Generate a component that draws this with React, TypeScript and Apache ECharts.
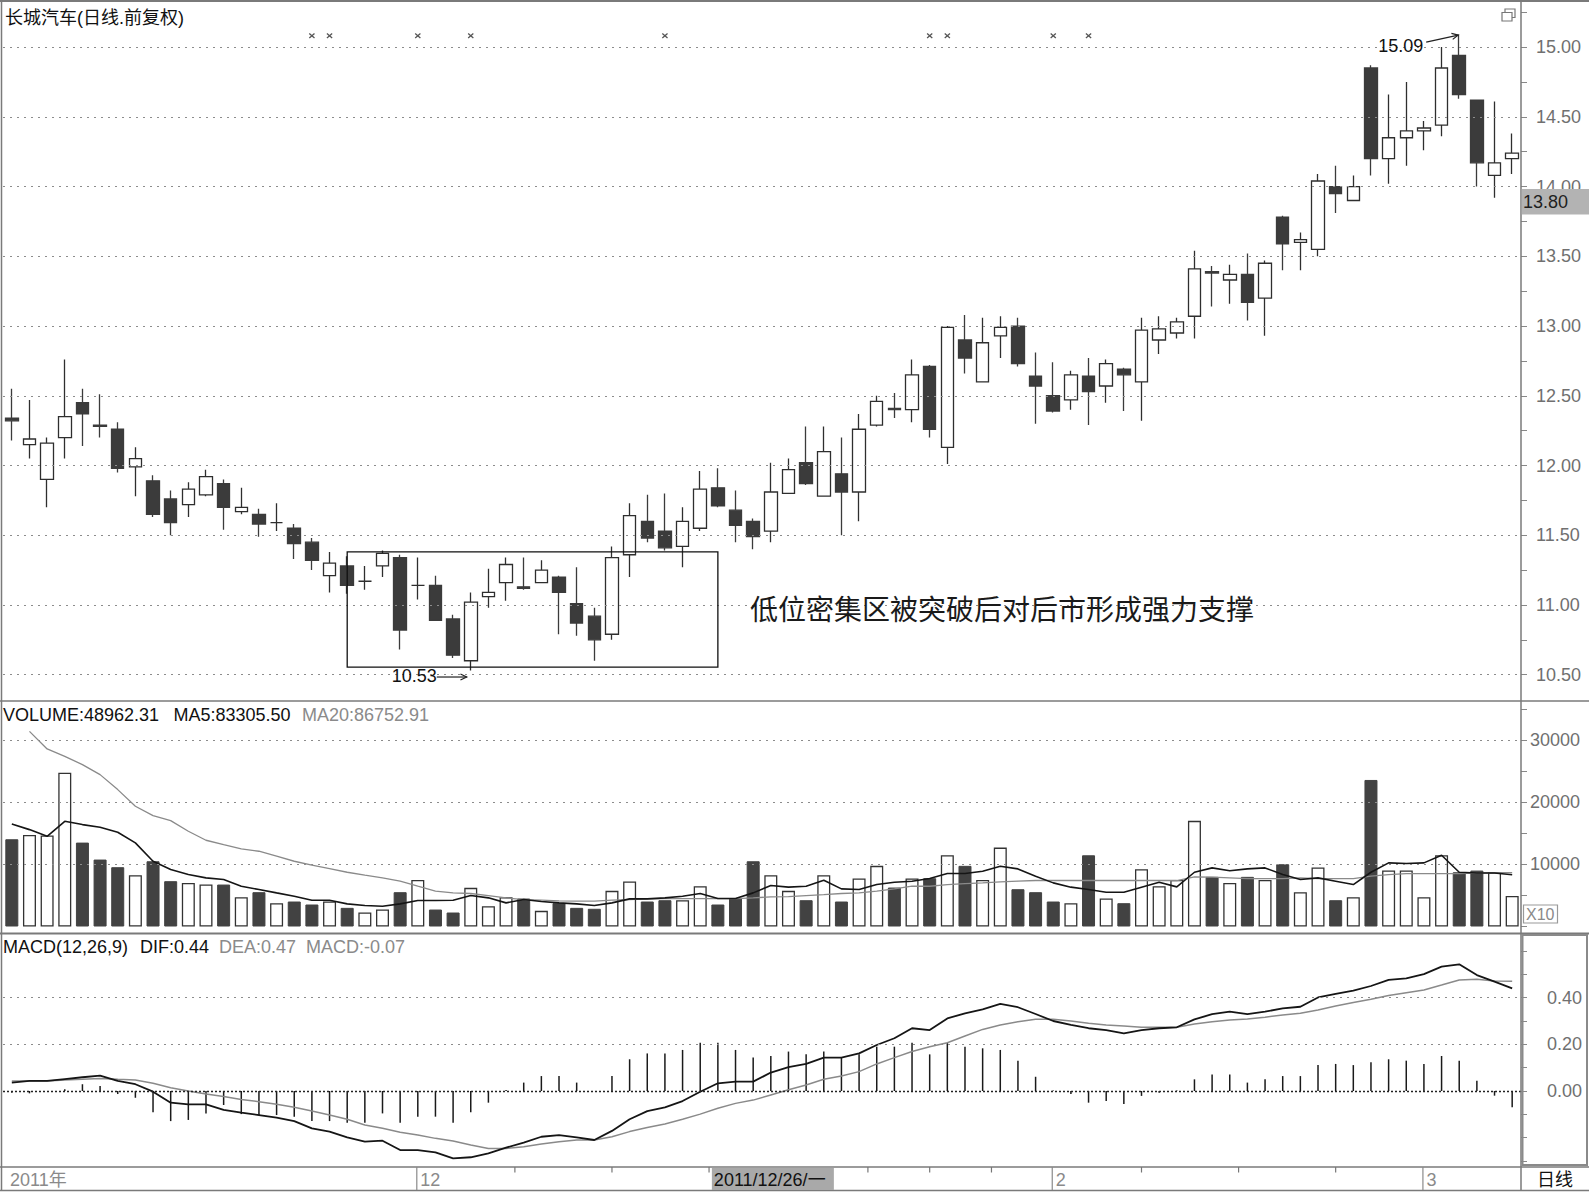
import React, { useEffect, useRef } from 'react';
import * as echarts from 'echarts';

const FONT = '"Liberation Sans", Arial, "Noto Sans CJK SC", sans-serif';
const CJK = '"Noto Sans CJK SC", "Liberation Sans", sans-serif';

// [open, close, low, high]
const CANDLES: number[][] = [
  [12.34, 12.32, 12.18, 12.55], [12.15, 12.19, 12.05, 12.47], [11.90, 12.16, 11.70, 12.20], [12.20, 12.35, 12.05, 12.76],
  [12.45, 12.37, 12.14, 12.55], [12.29, 12.28, 12.20, 12.51], [12.26, 11.98, 11.95, 12.31], [11.99, 12.05, 11.78, 12.13],
  [11.89, 11.65, 11.63, 11.93], [11.76, 11.59, 11.50, 11.82], [11.72, 11.83, 11.63, 11.88], [11.79, 11.92, 11.78, 11.97],
  [11.87, 11.70, 11.54, 11.90], [11.67, 11.70, 11.65, 11.84], [11.65, 11.58, 11.49, 11.69], [11.59, 11.59, 11.53, 11.73],
  [11.55, 11.44, 11.33, 11.58], [11.45, 11.32, 11.25, 11.48], [11.21, 11.30, 11.09, 11.38], [11.28, 11.14, 11.08, 11.35],
  [11.17, 11.17, 11.11, 11.28], [11.28, 11.37, 11.20, 11.39], [11.34, 10.82, 10.68, 11.36], [11.14, 11.14, 11.04, 11.34],
  [11.14, 10.89, 10.89, 11.21], [10.90, 10.64, 10.62, 10.93], [10.60, 11.02, 10.53, 11.09], [11.06, 11.09, 10.98, 11.26],
  [11.16, 11.29, 11.03, 11.34], [11.13, 11.12, 11.11, 11.34], [11.16, 11.25, 11.16, 11.32], [11.20, 11.09, 10.79, 11.21],
  [11.01, 10.87, 10.78, 11.27], [10.92, 10.75, 10.60, 10.98], [10.79, 11.34, 10.75, 11.42], [11.36, 11.64, 11.20, 11.73],
  [11.60, 11.48, 11.45, 11.79], [11.53, 11.41, 11.39, 11.80], [11.42, 11.60, 11.27, 11.70], [11.55, 11.83, 11.53, 11.96],
  [11.84, 11.71, 11.70, 11.98], [11.68, 11.57, 11.45, 11.82], [11.60, 11.49, 11.40, 11.62], [11.53, 11.81, 11.45, 12.02],
  [11.80, 11.97, 11.80, 12.05], [12.02, 11.87, 11.86, 12.28], [11.78, 12.10, 11.78, 12.28], [11.94, 11.81, 11.50, 12.20],
  [11.81, 12.26, 11.60, 12.37], [12.29, 12.46, 12.28, 12.50], [12.41, 12.40, 12.34, 12.52], [12.40, 12.65, 12.31, 12.76],
  [12.71, 12.26, 12.20, 12.72], [12.13, 12.99, 12.01, 13.00], [12.90, 12.77, 12.66, 13.08], [12.60, 12.88, 12.60, 13.06],
  [12.93, 12.99, 12.77, 13.07], [13.00, 12.73, 12.71, 13.06], [12.64, 12.57, 12.30, 12.81], [12.50, 12.39, 12.38, 12.74],
  [12.47, 12.65, 12.40, 12.68], [12.64, 12.53, 12.29, 12.77], [12.57, 12.73, 12.45, 12.76], [12.69, 12.65, 12.39, 12.70],
  [12.60, 12.97, 12.32, 13.06], [12.90, 12.98, 12.80, 13.07], [12.95, 13.03, 12.91, 13.06], [13.07, 13.41, 12.91, 13.54],
  [13.39, 13.38, 13.14, 13.43], [13.33, 13.37, 13.16, 13.44], [13.37, 13.17, 13.04, 13.52], [13.20, 13.45, 12.93, 13.47],
  [13.78, 13.59, 13.40, 13.79], [13.60, 13.62, 13.40, 13.67], [13.55, 14.04, 13.50, 14.09], [14.00, 13.95, 13.81, 14.15],
  [13.90, 14.00, 13.90, 14.08], [14.85, 14.20, 14.08, 14.87], [14.20, 14.35, 14.02, 14.66], [14.35, 14.40, 14.15, 14.75],
  [14.40, 14.42, 14.26, 14.47], [14.44, 14.85, 14.36, 15.00], [14.94, 14.66, 14.63, 15.09], [14.62, 14.17, 14.00, 14.62],
  [14.08, 14.17, 13.92, 14.61], [14.20, 14.24, 14.09, 14.38],
];

const VOLUME: number[] = [
  14040, 14740, 14650, 24760, 13500, 10770, 9540, 8250, 10500, 7290,
  7020, 6750, 6750, 4720, 5520, 3750, 4020, 3540, 4020, 3000,
  2250, 2730, 5520, 7500, 2730, 2250, 6220, 3270, 4720, 4500,
  2520, 3750, 3000, 2850, 5740, 7230, 4020, 4230, 4230, 6480,
  3540, 4500, 10500, 8250, 5740, 4230, 8250, 4020, 7720, 9760,
  6270, 7720, 7770, 11460, 9760, 7500, 12700, 6000, 5520, 4020,
  3750, 11460, 4500, 3750, 9220, 6480, 7500, 17000, 7990, 7020,
  7990, 7500, 10020, 5520, 9490, 4230, 4720, 23580, 9000, 9000,
  4720, 11460, 8730, 9000, 8730, 4896,
];

const VOL_MA5: number[] = [
  16500, 15590, 14520, 16930, 16400, 15970, 15170, 13450, 10500, 9160,
  8360, 7820, 7560, 6480, 5950, 5410, 4880, 4230, 4230, 3640,
  3380, 3270, 3640, 4180, 4180, 4230, 4980, 4610, 3800, 4340,
  4020, 3800, 3640, 3380, 3800, 4450, 4450, 4610, 4880, 5310,
  4500, 4500, 5410, 6590, 6330, 6480, 7450, 6050, 5950, 6750,
  7130, 7290, 7720, 8520, 8520, 8900, 9700, 9270, 8090, 7020,
  6330, 5950, 5520, 5520, 6330, 7130, 6380, 8730, 9430, 8980,
  9270, 9430, 8360, 7560, 7820, 7290, 6750, 8730, 10240, 10130,
  10240, 11470, 8730, 8620, 8620, 8330,
];

const VOL_MA20: (number | null)[] = [
  null, 31400, 28570, 27380, 26050, 24440, 22030, 19350, 17850, 17040,
  15330, 13880, 13180, 12490, 12110, 11310, 10500, 9860, 9330, 8730,
  8250, 7820, 7290, 6480, 5680, 5410, 5310, 4980, 4610, 4340,
  4230, 4120, 4070, 4070, 4230, 4340, 4450, 4500, 4500, 4500,
  4500, 4500, 4610, 4770, 4800, 4980, 5140, 5310, 5410, 5680,
  6050, 6480, 6480, 6750, 6910, 7020, 7180, 7290, 7400, 7400,
  7400, 7400, 7400, 7400, 7400, 7400, 7400, 7990, 7930, 7820,
  7720, 7720, 7720, 7820, 7720, 7720, 7720, 8090, 8360, 8520,
  8520, 8520, 8520, 8600, 8650, 8675,
];

const DIF: number[] = [
  0.036, 0.043, 0.043, 0.051, 0.059, 0.066, 0.043, 0.029, -0.003, -0.050,
  -0.057, -0.057, -0.081, -0.093, -0.103, -0.114, -0.129, -0.160, -0.174, -0.199,
  -0.217, -0.213, -0.253, -0.253, -0.263, -0.289, -0.284, -0.267, -0.243, -0.221,
  -0.196, -0.189, -0.199, -0.210, -0.171, -0.121, -0.086, -0.070, -0.043, -0.003,
  0.033, 0.040, 0.040, 0.079, 0.102, 0.116, 0.143, 0.143, 0.161, 0.197,
  0.226, 0.269, 0.261, 0.311, 0.333, 0.350, 0.373, 0.359, 0.330, 0.300,
  0.283, 0.269, 0.261, 0.247, 0.261, 0.269, 0.273, 0.307, 0.329, 0.340,
  0.329, 0.340, 0.354, 0.361, 0.401, 0.416, 0.430, 0.450, 0.476, 0.483,
  0.501, 0.533, 0.543, 0.497, 0.469, 0.440,
];

const DEA: number[] = [
  0.043, 0.043, 0.043, 0.047, 0.050, 0.054, 0.050, 0.047, 0.033, 0.014,
  0.000, -0.013, -0.024, -0.036, -0.046, -0.057, -0.070, -0.086, -0.103, -0.121,
  -0.146, -0.160, -0.177, -0.189, -0.203, -0.214, -0.231, -0.246, -0.246, -0.239,
  -0.227, -0.217, -0.210, -0.210, -0.196, -0.174, -0.156, -0.141, -0.121, -0.099,
  -0.074, -0.053, -0.039, -0.017, 0.005, 0.026, 0.050, 0.064, 0.083, 0.116,
  0.143, 0.169, 0.190, 0.207, 0.236, 0.264, 0.283, 0.297, 0.307, 0.307,
  0.300, 0.290, 0.283, 0.279, 0.273, 0.273, 0.273, 0.287, 0.297, 0.304,
  0.309, 0.316, 0.326, 0.333, 0.347, 0.364, 0.379, 0.393, 0.409, 0.421,
  0.433, 0.454, 0.476, 0.479, 0.471, 0.470,
];

const MACD_HIST: number[] = [
  -0.007, -0.010, 0.000, 0.007, 0.029, 0.021, -0.013, -0.029, -0.091, -0.129,
  -0.124, -0.096, -0.060, -0.099, -0.103, -0.103, -0.110, -0.129, -0.129, -0.136,
  -0.136, -0.096, -0.136, -0.110, -0.110, -0.136, -0.091, -0.050, 0.004, 0.036,
  0.064, 0.064, 0.036, 0.000, 0.064, 0.136, 0.161, 0.161, 0.176, 0.207,
  0.207, 0.176, 0.144, 0.150, 0.169, 0.157, 0.169, 0.143, 0.157, 0.190,
  0.190, 0.207, 0.157, 0.207, 0.190, 0.183, 0.176, 0.130, 0.061, 0.002,
  -0.013, -0.050, -0.043, -0.056, -0.021, -0.007, 0.002, 0.050, 0.071, 0.071,
  0.036, 0.050, 0.064, 0.064, 0.111, 0.116, 0.111, 0.123, 0.136, 0.130,
  0.116, 0.150, 0.130, 0.044, -0.020, -0.070,
];

const PRICE_TICKS = [10.5, 11, 11.5, 12, 12.5, 13, 13.5, 14, 14.5, 15];
const VOLUME_TICKS = [10000, 20000, 30000];
const MACD_TICKS = [0, 0.2, 0.4];

const TITLE = '长城汽车(日线.前复权)';
const VOL_LEGEND = ['VOLUME:48962.31', 'MA5:83305.50', 'MA20:86752.91'];
const MACD_LEGEND = ['MACD(12,26,9)', 'DIF:0.44', 'DEA:0.47', 'MACD:-0.07'];
const ANNOTATION = '低位密集区被突破后对后市形成强力支撑';
const LAST_PRICE_LABEL = '13.80';

const INFO_MARK_BARS = [18, 19, 24, 27, 38, 53, 54, 60, 62];
const MONTH_MARKS = [
  { bar: 24, label: '12' },
  { bar: 60, label: '2' },
  { bar: 81, label: '3' },
];
const WEEK_TICK_BARS = [29.5, 35, 40.5, 49.5, 53, 56.5, 65, 70.5, 76];
const CURSOR_BAR = 41;
const CURSOR_LABEL = '2011/12/26/一';
const YEAR_LABEL = '2011年';
const PERIOD_LABEL = '日线';
const HIGH_NOTE = { bar: 83, price: 15.09, label: '15.09' };
const LOW_NOTE = { bar: 27, price: 10.53, label: '10.53' };
const BOX = { fromBar: 20, toBar: 41, top: 11.38, bottom: 10.555 };

const CATEGORIES = CANDLES.map((_, i) => String(i + 1));

function isUp(i: number) {
  const [o, c] = CANDLES[i];
  if (c !== o) return c > o;
  return i === 0 || CANDLES[i - 1][1] <= c;
}

function tickFormatter(ticks: number[], digits: number) {
  return (v: number) => (ticks.some((t) => Math.abs(t - v) < 1e-6) ? v.toFixed(digits) : '');
}

function rightAxis(gridIndex: number, min: number, max: number, interval: number, ticks: number[], digits: number, margin: number) {
  return {
    type: 'value',
    gridIndex,
    position: 'right',
    min,
    max,
    interval,
    splitLine: { show: false },
    axisLine: { show: false },
    axisTick: { show: true, length: 6, lineStyle: { color: '#888', width: 1 } },
    axisLabel: {
      margin,
      color: '#707070',
      fontSize: 18,
      fontFamily: FONT,
      formatter: tickFormatter(ticks, digits),
    },
  };
}

function catAxis(gridIndex: number) {
  return {
    type: 'category',
    gridIndex,
    data: CATEGORIES,
    boundaryGap: true,
    axisLine: { show: false },
    axisTick: { show: false },
    axisLabel: { show: false },
    splitLine: { show: false },
  };
}

const DOTTED = { type: [2, 5], color: '#8c8c8c', width: 1 };

function gridLines(values: number[], style: any) {
  return {
    silent: true,
    symbol: ['none', 'none'],
    label: { show: false },
    emphasis: { disabled: true },
    lineStyle: style,
    data: values.map((v) => ({ yAxis: v })),
  };
}

function buildOption() {
  const gridBase = { left: 3, right: 68, outerBoundsMode: 'none', containLabel: false };
  return {
    animation: false,
    backgroundColor: '#ffffff',
    grid: [
      { ...gridBase, top: 12.23, height: 697.34 },
      { ...gridBase, top: 709.0, height: 217.5 },
      { ...gridBase, top: 951, height: 210 },
    ],
    xAxis: [catAxis(0), catAxis(1), catAxis(2)],
    yAxis: [
      rightAxis(0, 10.25, 15.25, 0.25, PRICE_TICKS, 2, 15),
      rightAxis(1, 0, 35000, 5000, VOLUME_TICKS, 0, 9),
      rightAxis(2, -0.3, 0.6, 0.1, MACD_TICKS, 2, 26),
    ],
    series: [
      {
        type: 'candlestick',
        xAxisIndex: 0,
        yAxisIndex: 0,
        barWidth: 13,
        data: CANDLES.map((d) => [d[0], d[1], d[2], d[3]]),
        itemStyle: {
          color: '#ffffff',
          color0: '#3b3b3b',
          borderColor: '#2e2e2e',
          borderColor0: '#3b3b3b',
          borderWidth: 1.3,
        },
        markLine: gridLines(PRICE_TICKS, DOTTED),
      },
      {
        type: 'bar',
        xAxisIndex: 1,
        yAxisIndex: 1,
        barWidth: 13,
        data: VOLUME.map((v, i) => ({
          value: v,
          itemStyle: isUp(i)
            ? { color: '#ffffff', borderColor: '#333', borderWidth: 1.3 }
            : { color: '#424242', borderColor: '#424242', borderWidth: 1 },
        })),
        markLine: gridLines(VOLUME_TICKS, DOTTED),
      },
      {
        type: 'line',
        xAxisIndex: 1,
        yAxisIndex: 1,
        data: VOL_MA20,
        symbol: 'none',
        lineStyle: { color: '#8a8a8a', width: 1.3 },
      },
      {
        type: 'line',
        xAxisIndex: 1,
        yAxisIndex: 1,
        data: VOL_MA5,
        symbol: 'none',
        lineStyle: { color: '#151515', width: 1.6 },
      },
      {
        type: 'bar',
        xAxisIndex: 2,
        yAxisIndex: 2,
        barWidth: 1.5,
        data: MACD_HIST,
        itemStyle: { color: '#1a1a1a' },
        markLine: {
          silent: true,
          symbol: ['none', 'none'],
          label: { show: false },
          emphasis: { disabled: true },
          data: MACD_TICKS.map((v) => ({
            yAxis: v,
            lineStyle: v === 0 ? { type: [2, 2], color: '#222', width: 1.3 } : DOTTED,
          })),
        },
      },
      {
        type: 'line',
        xAxisIndex: 2,
        yAxisIndex: 2,
        data: DEA,
        symbol: 'none',
        lineStyle: { color: '#8a8a8a', width: 1.5 },
      },
      {
        type: 'line',
        xAxisIndex: 2,
        yAxisIndex: 2,
        data: DIF,
        symbol: 'none',
        lineStyle: { color: '#151515', width: 1.8 },
      },
    ],
  };
}

function txt(x: number, y: number, text: string, opts: any = {}) {
  return {
    type: 'text',
    x,
    y,
    z: 120,
    silent: true,
    style: {
      text,
      fill: opts.fill || '#111',
      fontSize: opts.fontSize || 18,
      fontFamily: opts.fontFamily || FONT,
      textAlign: opts.align || 'left',
      textVerticalAlign: 'middle',
    },
  };
}

function ln(x1: number, y1: number, x2: number, y2: number, stroke: string, lineWidth = 1) {
  return {
    type: 'line',
    z: 110,
    silent: true,
    shape: { x1, y1, x2, y2 },
    style: { stroke, lineWidth },
  };
}

function rect(x: number, y: number, width: number, height: number, style: any, z = 110) {
  return { type: 'rect', z, silent: true, shape: { x, y, width, height }, style };
}

function arrow(x1: number, y1: number, x2: number, y2: number, color: string) {
  const a = Math.atan2(y2 - y1, x2 - x1);
  const L = 7;
  const s = 0.45;
  return [
    ln(x1, y1, x2, y2, color, 1.2),
    {
      type: 'polyline',
      z: 110,
      silent: true,
      shape: {
        points: [
          [x2 - L * Math.cos(a - s), y2 - L * Math.sin(a - s)],
          [x2, y2],
          [x2 - L * Math.cos(a + s), y2 - L * Math.sin(a + s)],
        ],
      },
      style: { stroke: color, lineWidth: 1.2, fill: 'none' },
    },
  ];
}

function buildGraphics(chart: any) {
  const P = (g: number, bar: number, v: number) =>
    chart.convertToPixel({ xAxisIndex: g, yAxisIndex: g }, [bar - 1, v]) as number[];
  const x0 = P(2, 1, 0)[0];
  const slot = P(2, 2, 0)[0] - x0;
  const xAt = (bar: number) => x0 + (bar - 1) * slot;
  const axisX = 1521;
  const W = 1589;
  const els: any[] = [];
  const frame = '#7a7a7a';

  // frame
  els.push(ln(0, 1, W, 1, frame, 2));
  els.push(ln(1.5, 0, 1.5, 1191, frame, 1.5));
  els.push(ln(axisX, 0, axisX, 1191, frame, 1.5));
  els.push(ln(0, 701, W, 701, frame, 1.5));
  els.push(ln(0, 933.5, W, 933.5, frame, 2));
  els.push(ln(0, 1167, W, 1167, frame, 1.5));
  els.push(ln(0, 1190.5, W, 1190.5, frame, 1.5));
  els.push(rect(1522.5, 935, 64.5, 230, { fill: 'none', stroke: '#8a8a8a', lineWidth: 2 }));

  // title & legends
  els.push(txt(5, 17.5, TITLE, { fontSize: 18 }));
  els.push(txt(3, 715, VOL_LEGEND[0]));
  els.push(txt(173.5, 715, VOL_LEGEND[1]));
  els.push(txt(302, 715, VOL_LEGEND[2], { fill: '#8a8a8a' }));
  els.push(txt(3, 946.5, MACD_LEGEND[0]));
  els.push(txt(140, 946.5, MACD_LEGEND[1]));
  els.push(txt(219, 946.5, MACD_LEGEND[2], { fill: '#8a8a8a' }));
  els.push(txt(306, 946.5, MACD_LEGEND[3], { fill: '#8a8a8a' }));

  // info markers
  INFO_MARK_BARS.forEach((b) => {
    const x = xAt(b);
    const y = 35.7;
    els.push(ln(x - 2.6, y - 2.2, x + 2.6, y + 2.2, '#555', 1.3));
    els.push(ln(x - 2.6, y + 2.2, x + 2.6, y - 2.2, '#555', 1.3));
  });

  // dense zone box
  const bl = P(0, BOX.fromBar, BOX.top);
  const br = P(0, BOX.toBar, BOX.bottom);
  els.push(rect(bl[0], bl[1], br[0] - bl[0], br[1] - bl[1], { fill: 'none', stroke: '#111', lineWidth: 1.3 }, 90));

  // high / low notes
  const hp = P(0, HIGH_NOTE.bar, HIGH_NOTE.price);
  els.push(...arrow(hp[0] - 33, hp[1] + 7.5, hp[0] - 1, hp[1] + 0.5, '#222'));
  els.push(txt(hp[0] - 36, hp[1] + 11.5, HIGH_NOTE.label, { align: 'right' }));
  const lp = P(0, LOW_NOTE.bar, LOW_NOTE.price);
  els.push(...arrow(lp[0] - 34, lp[1] + 6.5, lp[0] - 4, lp[1] + 6.5, '#222'));
  els.push(txt(lp[0] - 34, lp[1] + 5.5, LOW_NOTE.label, { align: 'right' }));

  // annotation
  els.push(txt(750, 608, ANNOTATION, { fontSize: 28, fontFamily: CJK, fill: '#1a1a1a' }));

  // last price box
  els.push(rect(axisX + 0.8, 189, W - axisX - 0.8, 25.5, { fill: '#b3b3b3' }, 115));
  els.push(txt(1523, 202, LAST_PRICE_LABEL, { fill: '#1e1e1e' }));

  // X10 box
  els.push(rect(1523.5, 905, 34, 18, { fill: '#fff', stroke: '#999', lineWidth: 1.2 }, 115));
  els.push(txt(1526, 914.5, 'X10', { fill: '#8a8a8a', fontSize: 16 }));

  // restore icon
  els.push(rect(1505, 9, 10, 8.5, { fill: '#fff', stroke: '#777', lineWidth: 1.2 }, 115));
  els.push(rect(1502, 12.5, 10, 8.5, { fill: '#fff', stroke: '#777', lineWidth: 1.2 }, 116));

  // date bar
  els.push(txt(10, 1179.5, YEAR_LABEL, { fill: '#8a8a8a' }));
  MONTH_MARKS.forEach((m) => {
    const x = xAt(m.bar) - 1;
    els.push(ln(x, 1167, x, 1190, '#8a8a8a', 1.2));
    els.push(txt(x + 3.5, 1180, m.label, { fill: '#8a8a8a' }));
  });
  WEEK_TICK_BARS.forEach((b) => {
    const x = xAt(b);
    els.push(ln(x, 1167, x, 1172.5, '#777', 1.2));
  });
  const cx = xAt(CURSOR_BAR) - 6;
  els.push(rect(cx, 1168, 122, 22, { fill: '#a9a9a9' }, 112));
  els.push(txt(cx + 2, 1179.5, CURSOR_LABEL, { fill: '#111' }));
  els.push(txt(1537, 1179.5, PERIOD_LABEL, { fill: '#111', fontSize: 18 }));

  return els;
}

export default function App() {
  const ref = useRef<HTMLDivElement>(null);
  useEffect(() => {
    document.body.style.margin = '0';
    const chart = echarts.init(ref.current as HTMLDivElement, null, { renderer: 'svg' });
    chart.setOption(buildOption() as any);
    chart.setOption({ graphic: buildGraphics(chart) } as any);
    return () => chart.dispose();
  }, []);
  return <div ref={ref} style={{ width: 1589, height: 1193, position: 'absolute', left: 0, top: 0 }} />;
}
